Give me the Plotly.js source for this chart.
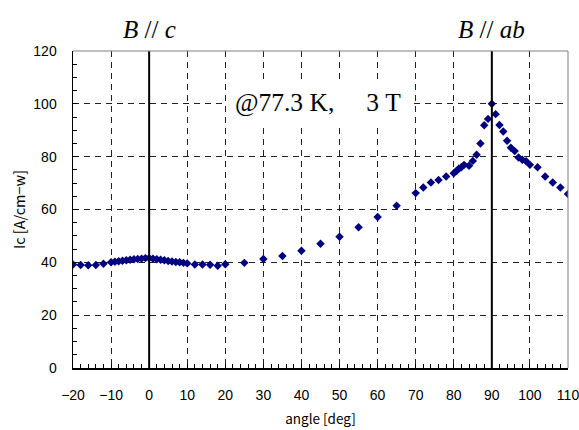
<!DOCTYPE html>
<html>
<head>
<meta charset="utf-8">
<script src="https://cdn.plot.ly/plotly-3.0.1.min.js"></script>
<style>html,body{margin:0;padding:0;background:#fff;}#chart{width:579px;height:430px;}</style>
</head>
<body>
<div id="chart"></div>
<script>
// Angle (deg) and critical current Ic (A/cm-w)
const angle = [-20, -18, -16, -14, -12, -10, -9, -8, -7, -6, -5, -4, -3, -2, -1, 0, 1, 2, 3, 4, 5, 6, 7, 8, 9, 10,
  12, 14, 16, 18, 20, 25, 30, 35, 40, 45, 50, 55, 60, 65,
  70, 72, 74, 76, 78, 80, 80.7, 81.3, 82, 82.7, 84, 85, 86, 87, 88, 89, 90, 91, 92, 93, 94, 95, 96, 97, 98, 99, 100,
  102, 104, 106, 108, 110];
const ic = [39.2, 39.0, 38.9, 39.0, 39.5, 40.0, 40.2, 40.4, 40.6, 40.8, 41.0, 41.2, 41.3, 41.4, 41.6, 41.6, 41.4, 41.2, 41.0, 40.8, 40.5, 40.3, 40.1, 40.0, 39.8, 39.6,
  39.2, 39.2, 39.1, 38.7, 39.3, 39.8, 41.3, 42.4, 44.4, 47.0, 49.7, 53.3, 57.2, 61.4,
  66.2, 68.3, 70.2, 71.2, 72.5, 73.7, 74.6, 75.4, 76.0, 76.9, 76.6, 78.4, 80.7, 85.0, 91.9, 94.3, 100.0, 96.1, 92.0, 89.5, 86.0, 83.4, 82.1, 79.7, 78.8, 78.3, 76.9,
  76.0, 72.5, 70.2, 68.3, 65.9];
const xTicks = [-20, -10, 0, 10, 20, 30, 40, 50, 60, 70, 80, 90, 100, 110];
const yTicks = [0, 20, 40, 60, 80, 100, 120];
const refAngles = [0, 90];
const refLabels = ['<i>B</i> // <i>c</i>', '<i>B</i> // <i>ab</i>'];
const condition = '@77.3\u00a0K,\u00a0\u00a0\u00a0\u00a0\u00a03\u00a0T';

const trace = {
  x: angle, y: ic, type: 'scatter', mode: 'markers',
  marker: {symbol: 'diamond', size: 6.5, color: '#000080'},
  hoverinfo: 'x+y'
};

const shapes = refAngles.map(a => ({
  type: 'line', xref: 'x', yref: 'paper', x0: a, x1: a, y0: 0, y1: 1,
  line: {color: '#000', width: 2}, layer: 'above'
}));
shapes.push({type: 'line', xref: 'paper', yref: 'paper', x0: 0, x1: 1, y0: 1, y1: 1, line: {color: '#808080', width: 1}, layer: 'above'});
shapes.push({type: 'line', xref: 'paper', yref: 'paper', x0: 1, x1: 1, y0: 0, y1: 1, line: {color: '#808080', width: 1}, layer: 'above'});

const annotations = refAngles.map((a, i) => ({
  x: a, xref: 'x', y: 1, yref: 'paper', yanchor: 'bottom', yshift: 6,
  text: refLabels[i], showarrow: false,
  font: {family: 'Liberation Serif, serif', size: 25, color: '#000'}
}));
annotations.push({
  x: 44.3, xref: 'x', y: 100.5, yref: 'y', text: condition, showarrow: false,
  font: {family: 'Liberation Serif, serif', size: 25.5, color: '#000'},
  bgcolor: '#fff', borderpad: 8
});

const axisCommon = {
  showline: true, linecolor: '#000', linewidth: 1.5,
  ticks: 'inside', ticklen: 4, tickcolor: '#000', tickwidth: 1,
  showgrid: true, gridcolor: '#222', gridwidth: 1, griddash: '6px,5px',
  zeroline: false, ticklabeloverflow: 'allow',
  tickfont: {family: 'Liberation Sans, Arial, sans-serif', size: 14, color: '#000'}
};

const layout = {
  width: 579, height: 430,
  margin: {l: 73, r: 11, t: 51, b: 62},
  paper_bgcolor: '#fff', plot_bgcolor: '#fff',
  showlegend: false,
  xaxis: Object.assign({}, axisCommon, {
    range: [-20, 110], tickvals: xTicks, ticklabelstandoff: 14,
    minor: {dtick: 2, ticks: 'inside', ticklen: 4, tickcolor: '#000', showgrid: false},
    title: {text: 'angle [deg]', standoff: 12, font: {family: 'Noto Sans CJK JP, sans-serif', size: 13.5, color: '#000'}}
  }),
  yaxis: Object.assign({}, axisCommon, {
    range: [0, 120], tickvals: yTicks, ticklabelstandoff: 12,
    minor: {dtick: 5, ticks: 'inside', ticklen: 4, tickcolor: '#000', showgrid: false},
    title: {text: 'Ic [A/cm\u2212w]', standoff: 4, font: {family: 'Noto Sans CJK JP, sans-serif', size: 14.5, color: '#000'}}
  }),
  shapes: shapes,
  annotations: annotations
};

Plotly.newPlot('chart', [trace], layout, {displayModeBar: false, staticPlot: true});
</script>
</body>
</html>
